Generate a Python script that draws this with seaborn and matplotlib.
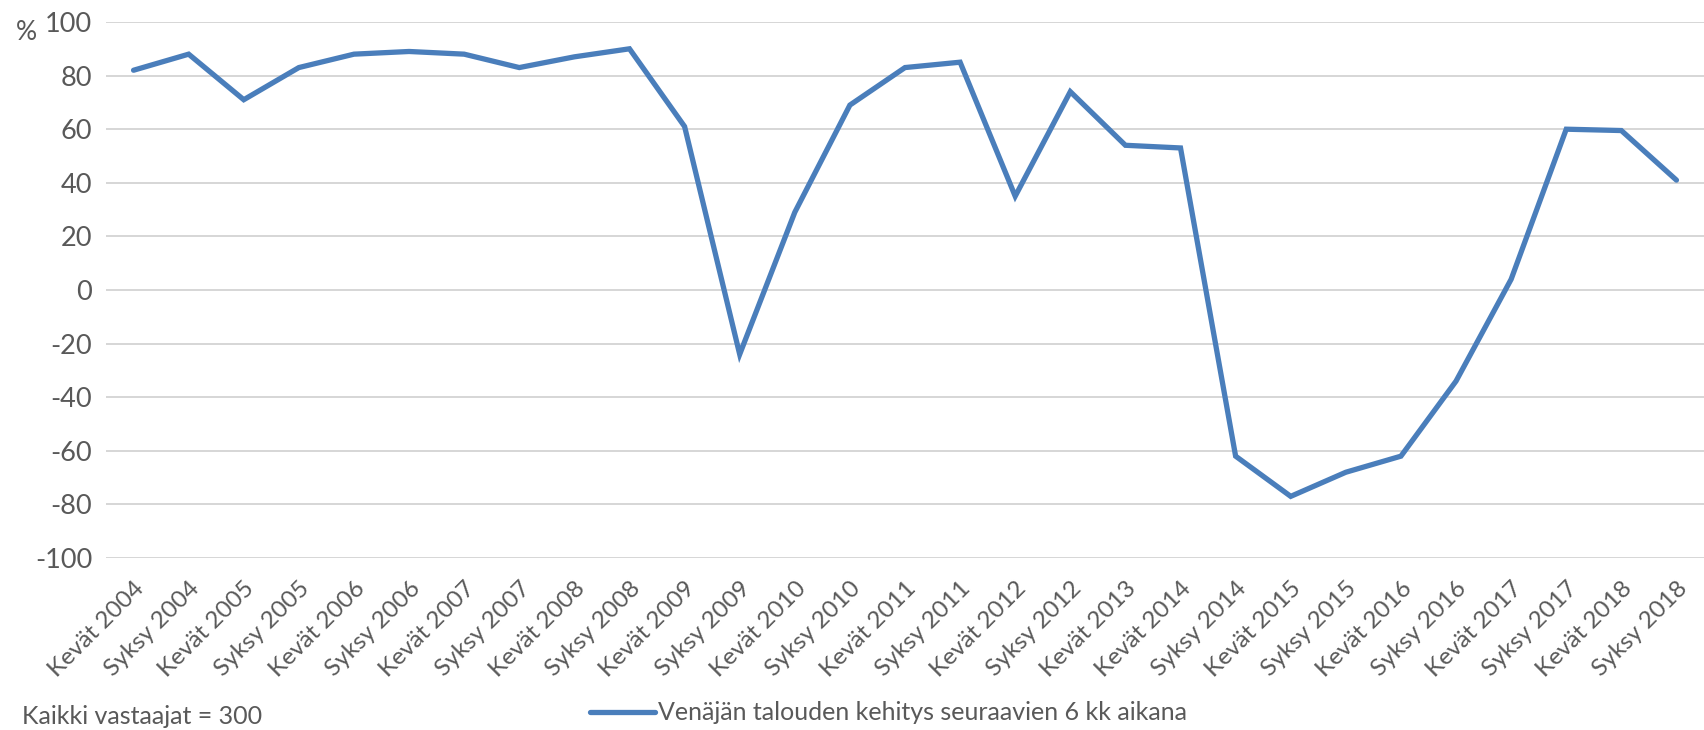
import numpy as np
import pandas as pd
import matplotlib
matplotlib.use("Agg")
import matplotlib.pyplot as plt
import seaborn as sns

# Survey periods and share (%) of respondents
periods = [
    "Kevät 2004", "Syksy 2004", "Kevät 2005", "Syksy 2005", "Kevät 2006",
    "Syksy 2006", "Kevät 2007", "Syksy 2007", "Kevät 2008", "Syksy 2008",
    "Kevät 2009", "Syksy 2009", "Kevät 2010", "Syksy 2010", "Kevät 2011",
    "Syksy 2011", "Kevät 2012", "Syksy 2012", "Kevät 2013", "Kevät 2014",
    "Syksy 2014", "Kevät 2015", "Syksy 2015", "Kevät 2016", "Syksy 2016",
    "Kevät 2017", "Syksy 2017", "Kevät 2018", "Syksy 2018",
]
values = [
    82, 88, 71, 83, 88,
    89, 88, 83, 87, 90,
    61, -24, 29, 69, 83,
    85, 35, 74, 54, 53,
    -62, -77, -68, -62, -34,
    4, 60, 59.5, 41,
]
series_name = "Venäjän talouden kehitys seuraavien 6 kk aikana"
yticks = list(range(-100, 101, 20))

sns.set_theme(style="white")
plt.rcParams["font.family"] = ["Lato", "DejaVu Sans"]
plt.rcParams["axes.unicode_minus"] = False
text_color = "#595959"
line_color = "#4A7EBB"

df = pd.DataFrame({"period": periods, "value": values})

fig = plt.figure(figsize=(17.04, 7.30), dpi=100)
ax = fig.add_axes([106 / 1704, 1 - 558 / 730, 1 - 106 / 1704, (558 - 22) / 730])

sns.lineplot(data=df, x="period", y="value", sort=False, ax=ax,
             color=line_color, linewidth=3.8, label=series_name,
             solid_capstyle="round", solid_joinstyle="miter")

ax.set_ylim(-100, 100)
ax.set_xlim(-0.5, len(periods) - 0.5)
ax.set_yticks(yticks)
ax.yaxis.grid(True, color="#D0D0D0", linewidth=1.2)
ax.xaxis.grid(False)
ax.set_axisbelow(True)
for s in ax.spines.values():
    s.set_visible(False)
ax.set_xlabel("")
ax.set_ylabel("")
ax.tick_params(axis="y", length=0, pad=10, labelsize=19.5, labelcolor=text_color)
ax.tick_params(axis="x", length=0, pad=14, labelsize=17.5, labelcolor=text_color)
ax.set_xticks(range(len(periods)))
ax.set_xticklabels(periods, rotation=45, ha="right", rotation_mode="anchor")
for lbl in ax.get_yticklabels():
    lbl.set_clip_on(False)

fig.text(16 / 1704, 1 - 33 / 730, "%", fontsize=19, color=text_color,
         ha="left", va="center")
fig.text(22 / 1704, 1 - 716 / 730, "Kaikki vastaajat = 300", fontsize=18,
         color=text_color, ha="left", va="center")

ax.get_legend().remove()
fig.legend(*ax.get_legend_handles_labels(), loc="center left",
           bbox_to_anchor=(590 / 1704, 1 - 713 / 730), frameon=False,
           fontsize=18, labelcolor=text_color, handlelength=2.6,
           handletextpad=0.1, borderaxespad=0, borderpad=0)

fig.savefig("out.png", dpi=100)
